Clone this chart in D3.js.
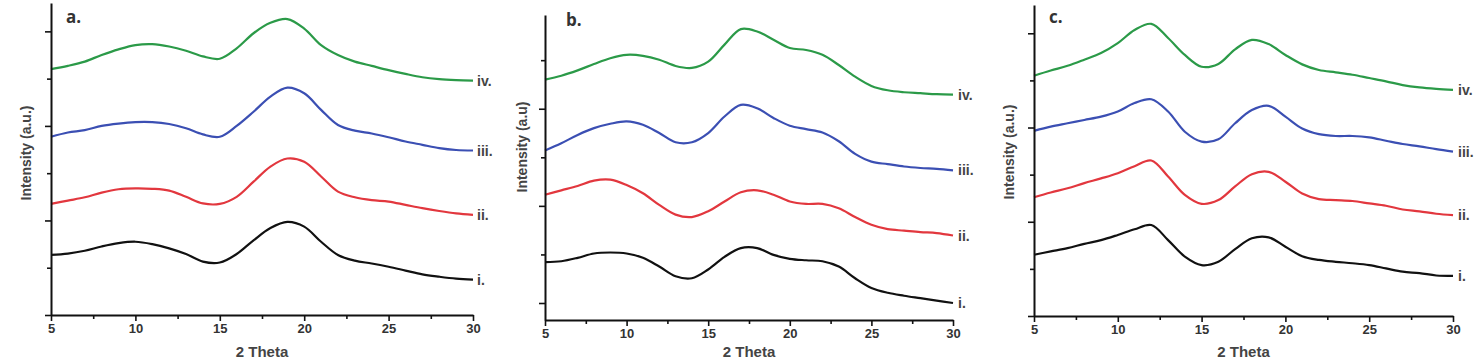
<!DOCTYPE html>
<html>
<head>
  <meta charset="UTF-8">
  <title>XRD patterns a-c</title>
  <script src="https://d3js.org/d3.v7.min.js"></script>
  <style>
    body { margin: 0; padding: 0; background: #fff; }
    svg { display: block; }
    .axis path, .axis line { stroke: #111; }
    .axis text { font-family: 'Liberation Sans', Arial, sans-serif; font-weight: 700; font-size: 13px; fill: #333; }
    .axis-title { font-family: 'Liberation Sans', Arial, sans-serif; font-weight: 700; fill: #444; }
    .panel-tag { font-family: 'Open Sans', sans-serif; font-weight: 700; font-size: 17px; fill: #333; }
    .curve-tag { font-family: 'Liberation Sans', Arial, sans-serif; font-weight: 700; font-size: 14px; fill: #444; }
  </style>
</head>
<body>
  <svg id="chart"></svg>
  <script>
    // 2 Theta sample positions (same for every trace)
    const theta = [5, 6, 7, 8, 9, 10, 11, 12, 13, 14, 15, 16, 17, 18, 19, 20, 21, 22, 23, 24, 25, 26, 27, 28, 29, 30];

    // panel a (intensity, a.u.)
    const aI   = [1.27, 1.30, 1.36, 1.45, 1.52, 1.55, 1.50, 1.41, 1.29, 1.13, 1.11, 1.29, 1.58, 1.84, 1.97, 1.87, 1.55, 1.27, 1.15, 1.09, 1.02, 0.94, 0.86, 0.81, 0.77, 0.75];
    const aII  = [2.35, 2.42, 2.49, 2.59, 2.66, 2.68, 2.67, 2.63, 2.50, 2.36, 2.35, 2.50, 2.82, 3.14, 3.31, 3.24, 2.93, 2.61, 2.49, 2.43, 2.40, 2.33, 2.26, 2.20, 2.15, 2.12];
    const aIII = [3.77, 3.86, 3.91, 4.00, 4.05, 4.08, 4.08, 4.04, 3.95, 3.82, 3.77, 4.00, 4.30, 4.62, 4.81, 4.69, 4.34, 4.02, 3.90, 3.84, 3.76, 3.67, 3.60, 3.53, 3.49, 3.48];
    const aIV  = [5.20, 5.27, 5.36, 5.50, 5.62, 5.71, 5.73, 5.68, 5.59, 5.47, 5.42, 5.64, 5.96, 6.18, 6.26, 6.06, 5.71, 5.50, 5.36, 5.27, 5.18, 5.10, 5.03, 4.99, 4.97, 4.96];

    // panel b
    const bI   = [0.84, 0.86, 0.93, 1.02, 1.04, 1.02, 0.93, 0.75, 0.55, 0.51, 0.69, 0.95, 1.13, 1.13, 0.99, 0.91, 0.88, 0.86, 0.75, 0.51, 0.31, 0.21, 0.15, 0.10, 0.05, 0.00];
    const bII  = [2.23, 2.32, 2.41, 2.52, 2.54, 2.43, 2.26, 2.02, 1.82, 1.77, 1.89, 2.09, 2.28, 2.32, 2.23, 2.09, 2.04, 2.04, 1.95, 1.77, 1.61, 1.52, 1.49, 1.46, 1.44, 1.39];
    const bIII = [3.14, 3.29, 3.46, 3.60, 3.69, 3.74, 3.67, 3.50, 3.31, 3.31, 3.50, 3.84, 4.08, 4.01, 3.81, 3.65, 3.58, 3.51, 3.33, 3.07, 2.91, 2.86, 2.81, 2.78, 2.76, 2.73];
    const bIV  = [4.60, 4.68, 4.79, 4.92, 5.04, 5.11, 5.09, 5.01, 4.88, 4.84, 4.97, 5.32, 5.64, 5.59, 5.42, 5.25, 5.21, 5.11, 4.90, 4.66, 4.47, 4.38, 4.34, 4.32, 4.30, 4.29];

    // panel c
    const cI   = [1.30, 1.37, 1.44, 1.53, 1.61, 1.72, 1.84, 1.93, 1.61, 1.26, 1.08, 1.15, 1.42, 1.65, 1.67, 1.47, 1.27, 1.19, 1.15, 1.12, 1.08, 1.01, 0.94, 0.91, 0.86, 0.85];
    const cII  = [2.52, 2.62, 2.71, 2.82, 2.92, 3.03, 3.18, 3.30, 2.96, 2.57, 2.38, 2.46, 2.75, 3.01, 3.06, 2.85, 2.60, 2.48, 2.46, 2.44, 2.39, 2.34, 2.26, 2.22, 2.17, 2.14];
    const cIII = [3.93, 4.02, 4.09, 4.16, 4.23, 4.34, 4.52, 4.60, 4.34, 3.91, 3.70, 3.75, 4.09, 4.37, 4.46, 4.23, 3.98, 3.86, 3.82, 3.82, 3.79, 3.72, 3.65, 3.60, 3.54, 3.49];
    const cIV  = [5.10, 5.21, 5.31, 5.44, 5.58, 5.79, 6.07, 6.20, 5.90, 5.54, 5.29, 5.35, 5.66, 5.86, 5.77, 5.54, 5.34, 5.22, 5.17, 5.12, 5.05, 4.98, 4.90, 4.85, 4.82, 4.80];

    const traceNames = ["i.", "ii.", "iii.", "iv."];
    const traceColors = ["#111111", "#e2373e", "#3b4fb3", "#2b9a48"];
    const xMajor = [5, 10, 15, 20, 25, 30];
    const xMinor = [7.5, 12.5, 17.5, 22.5, 27.5];

    const panels = [
      { tag: "a.", ylab: "Intensity (a.u.)", series: [aI, aII, aIII, aIV],
        left: 51, right: 473, top: 3, bottom: 315, yDom: [0, 6.6], yTicks: [0, 1, 2, 3, 4, 5, 6],
        tagX: 66, tagY: 23, ylabX: 26, ylabY: 153, labDx: 4 },
      { tag: "b.", ylab: "Intensity (a.u)", series: [bI, bII, bIII, bIV],
        left: 545, right: 953, top: 15, bottom: 320, yDom: [-0.35, 5.93], yTicks: [0, 1, 2, 3, 4, 5],
        tagX: 566, tagY: 26, ylabX: 522, ylabY: 147, labDx: 5 },
      { tag: "c.", ylab: "Intensity (a.u.)", series: [cI, cII, cIII, cIV],
        left: 1034, right: 1453, top: 5, bottom: 316, yDom: [0, 6.6], yTicks: [0, 1, 2, 3, 4, 5, 6],
        tagX: 1049, tagY: 23, ylabX: 1009, ylabY: 152, labDx: 5 }
    ];

    const svg = d3.select("#chart").attr("width", 1477).attr("height", 360);

    panels.forEach(function(p) {
      const x = d3.scaleLinear().domain([5, 30]).range([p.left, p.right]);
      const y = d3.scaleLinear().domain(p.yDom).range([p.bottom, p.top]);
      const g = svg.append("g");

      const line = d3.line()
        .x(function(d, i) { return x(theta[i]); })
        .y(function(d) { return y(d); })
        .curve(d3.curveCatmullRom.alpha(0.5));

      p.series.forEach(function(s, k) {
        g.append("path")
          .attr("d", line(s))
          .attr("fill", "none")
          .attr("stroke", traceColors[k])
          .attr("stroke-width", 2.2)
          .attr("stroke-linejoin", "round");

        g.append("text")
          .attr("class", "curve-tag")
          .attr("x", x(30) + p.labDx)
          .attr("y", y(s[s.length - 1]))
          .attr("dy", "0.36em")
          .text(traceNames[k]);
      });

      // x axis: major + minor ticks
      const xa = g.append("g")
        .attr("class", "axis")
        .attr("transform", `translate(0,${p.bottom})`)
        .call(d3.axisBottom(x).tickValues(xMajor).tickSize(6).tickSizeOuter(0).tickPadding(3).tickFormat(d3.format("d")));
      xa.select(".domain").attr("stroke-width", 2);
      xa.selectAll(".tick line").attr("stroke-width", 1.6);

      g.append("g")
        .attr("class", "axis")
        .attr("transform", `translate(0,${p.bottom})`)
        .call(d3.axisBottom(x).tickValues(xMinor).tickSize(4).tickSizeOuter(0).tickFormat(""))
        .call(function(a) { a.select(".domain").remove(); })
        .selectAll(".tick line").attr("stroke-width", 1.6);

      // y axis, no labels
      const ya = g.append("g")
        .attr("class", "axis")
        .attr("transform", `translate(${p.left},0)`)
        .call(d3.axisLeft(y).tickValues(p.yTicks).tickSizeOuter(0).tickFormat(""));
      ya.select(".domain").attr("stroke-width", 2);
      ya.selectAll(".tick line")
        .attr("stroke-width", 1.6)
        .attr("x2", function(d) { return d % 2 === 0 ? -6 : -4; });

      g.append("text")
        .attr("class", "axis-title")
        .attr("x", (p.left + p.right) / 2)
        .attr("y", 357)
        .attr("text-anchor", "middle")
        .style("font-size", "15px")
        .text("2 Theta");

      g.append("text")
        .attr("class", "axis-title")
        .attr("transform", `translate(${p.ylabX},${p.ylabY}) rotate(-90)`)
        .attr("text-anchor", "middle")
        .attr("dy", "0.36em")
        .style("font-size", "14px")
        .text(p.ylab);

      g.append("text")
        .attr("class", "panel-tag")
        .attr("x", p.tagX)
        .attr("y", p.tagY)
        .text(p.tag);
    });
  </script>
</body>
</html>
